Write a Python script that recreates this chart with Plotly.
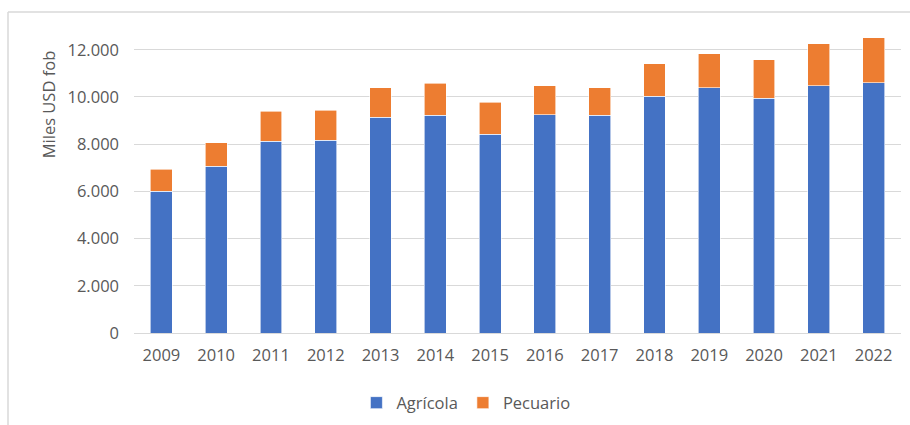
import plotly.graph_objects as go

years = ["2009", "2010", "2011", "2012", "2013", "2014", "2015",
         "2016", "2017", "2018", "2019", "2020", "2021", "2022"]
agricola = [6010, 7070, 8120, 8170, 9150, 9220, 8430,
            9250, 9220, 10030, 10390, 9940, 10480, 10600]
total = [6930, 8070, 9390, 9430, 10390, 10580, 9770,
         10480, 10390, 11410, 11830, 11580, 12260, 12510]
pecuario = [t - a for t, a in zip(total, agricola)]

y_ticks = [0, 2000, 4000, 6000, 8000, 10000, 12000]

BLUE = "#4472C4"
ORANGE = "#ED7D31"
TEXT = "#595959"
GRID = "#D9D9D9"
FONT = "Open Sans"

fig = go.Figure()
fig.add_trace(go.Bar(
    x=years, y=agricola, name="Agrícola",
    marker=dict(color=BLUE, line=dict(color="white", width=0.6)),
))
fig.add_trace(go.Bar(
    x=years, y=pecuario, name="Pecuario",
    marker=dict(color=ORANGE, line=dict(color="white", width=0.6)),
))

fig.update_layout(
    barmode="stack",
    bargap=0.6,
    width=910,
    height=425,
    margin=dict(l=134, r=9, t=25, b=92),
    plot_bgcolor="white",
    paper_bgcolor="white",
    separators=",.",
    font=dict(family=FONT, size=16.5, color=TEXT),
    showlegend=True,
    legend=dict(
        orientation="h",
        xref="container", yref="container",
        x=0.512, y=0.052, xanchor="center", yanchor="middle",
        font=dict(size=16.5, color=TEXT),
        itemwidth=30,
        traceorder="normal",
    ),
)

fig.update_yaxes(
    range=[0, 13050],
    tickvals=y_ticks,
    tickformat=",.0f",
    showgrid=True, gridcolor=GRID, gridwidth=1,
    zeroline=True, zerolinecolor=GRID, zerolinewidth=1,
    showline=False,
    ticks="", ticklabelstandoff=14,
)
fig.update_xaxes(
    showgrid=False, showline=False, zeroline=False,
    ticks="", ticklabelstandoff=10,
)

# axis title placed like the original
fig.add_annotation(
    text="Miles USD fob", textangle=-90,
    xref="paper", yref="paper", x=-0.112, y=0.743,
    xanchor="center", yanchor="middle",
    showarrow=False, font=dict(size=16.5, color=TEXT),
)

# outer chart border (top and left edges visible)
fig.add_shape(type="line", xref="paper", yref="paper",
              x0=(8 - 134) / 767, x1=(910 - 134) / 767,
              y0=(332.7 - 12) / 307.7, y1=(332.7 - 12) / 307.7,
              line=dict(color="#D9D9D9", width=1.5))
fig.add_shape(type="line", xref="paper", yref="paper",
              x0=(8 - 134) / 767, x1=(8 - 134) / 767,
              y0=(332.7 - 12) / 307.7, y1=(332.7 - 425) / 307.7,
              line=dict(color="#D9D9D9", width=1.5))

fig.write_html(
    "out.html",
    config={"displayModeBar": False},
    post_script="document.body.style.margin='0';",
)
